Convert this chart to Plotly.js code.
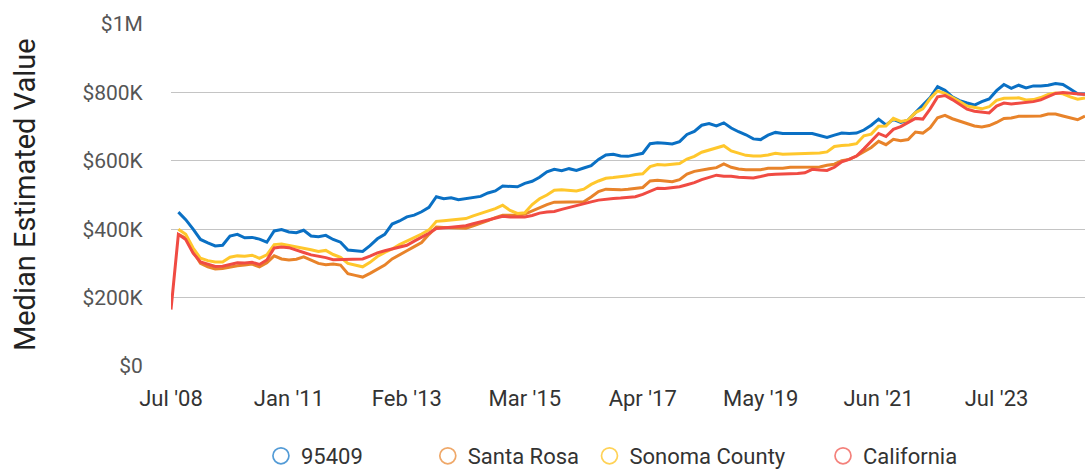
<!DOCTYPE html>
<html>
<head>
<meta charset="utf-8">
<script src="https://cdn.plot.ly/plotly-3.0.1.min.js"></script>
<style>
  html, body { margin: 0; padding: 0; background: #fff; }
  #chart { width: 1089px; height: 470px; }
</style>
</head>
<body>
<div id="chart"></div>
<script>
// Tick labels along the x axis (one every 16 data points)
const tickLabels = ["Jul '08", "Jan '11", "Feb '13", "Mar '15", "Apr '17", "May '19", "Jun '21", "Jul '23"];
const pointsPerTick = 16;

// Series values, in thousands of dollars (null = no data)
const zip95409 = [
  null,450,428,400,370,360,351,353,380,385,
  375,376,371,362,395,399,392,390,397,380,
  378,382,370,362,339,337,335,352,372,385,
  415,424,436,441,451,464,495,489,492,486,
  489,492,496,506,512,526,525,524,534,540,
  552,568,575,571,577,572,579,586,604,617,
  619,614,613,617,622,650,653,651,649,656,
  677,686,704,709,702,711,696,685,676,664,
  662,675,683,680,680,679,678,680,674,668,
  675,681,680,681,690,704,722,705,721,712,
  719,740,763,785,817,806,787,776,769,763,
  773,781,805,823,812,821,813,819,819,821,
  826,823,810,796,795
];
const santaRosa = [
  null,385,374,335,300,290,284,285,290,293,
  295,298,290,302,322,313,310,312,319,310,
  300,296,298,295,270,265,260,271,284,295,
  313,326,337,349,361,385,406,405,405,404,
  403,410,417,425,434,441,441,441,444,454,
  464,472,479,479,479,478,480,494,510,517,
  516,515,517,519,522,541,543,541,539,545,
  561,569,574,577,580,591,581,576,574,573,
  574,578,578,578,581,581,581,581,582,587,
  590,600,604,614,627,639,657,647,663,659,
  662,684,681,697,726,733,723,716,711,702,
  699,703,712,724,725,730,730,730,731,737,
  737,731,726,720,731
];
const sonomaCounty = [
  null,400,385,345,315,308,304,304,318,322,
  321,324,315,325,355,357,353,349,346,340,
  335,338,326,318,300,295,290,303,320,332,
  342,355,365,374,386,398,423,425,427,429,
  431,439,446,452,460,470,455,446,448,472,
  489,500,514,515,513,512,517,531,541,549,
  551,553,556,560,562,583,589,588,590,592,
  605,613,625,632,637,644,629,623,616,614,
  614,617,622,619,620,620,620,621,623,626,
  642,645,646,650,673,678,701,702,724,715,
  719,741,752,782,804,797,786,773,760,755,
  752,758,777,783,783,784,778,779,785,794,
  798,796,787,780,784
];
const california = [
  165,385,370,330,304,298,291,292,298,302,
  301,303,297,310,345,348,346,340,332,325,
  322,317,311,311,312,313,313,321,331,337,
  342,347,353,365,376,388,402,405,406,408,
  410,416,421,427,432,438,436,436,436,440,
  447,450,452,458,464,468,474,480,485,488,
  490,491,493,495,502,511,520,519,522,524,
  530,536,545,551,558,555,555,552,551,550,
  554,559,561,561,562,563,565,575,573,572,
  581,597,604,614,635,658,680,671,692,700,
  712,724,722,752,787,791,779,766,751,745,
  743,740,760,769,766,768,770,773,778,788,
  797,800,798,796,794
];

const seriesNames = ["95409", "Santa Rosa", "Sonoma County", "California"];
const yTickValues = [0, 200000, 400000, 600000, 800000, 1000000];
const yTickLabels = ["$0", "$200K", "$400K", "$600K", "$800K", "$1M"];
const yTitle = "Median Estimated Value";

const lineColors = ["#0a70c4", "#e8832a", "#ffc72c", "#f04b43"];
const legendColors = ["rgba(10,112,196,0.7)", "rgba(232,131,42,0.7)", "rgba(255,199,44,0.8)", "rgba(240,75,67,0.7)"];
const legendPad = [11, 1, 6, 0];   // spacing after each legend label

const allSeries = [zip95409, santaRosa, sonomaCounty, california];
const nPoints = california.length;
const xIdx = california.map((_, i) => i);

const traces = [];
allSeries.forEach((vals, k) => {
  traces.push({
    type: "scatter", mode: "lines",
    x: xIdx, y: vals.map(v => v == null ? null : v * 1000),
    name: seriesNames[k], showlegend: false,
    line: { color: lineColors[k], width: 3, shape: "linear" },
    hoverinfo: "skip"
  });
});
// legend entries (open circles)
seriesNames.forEach((nm, k) => {
  traces.push({
    type: "scatter", mode: "markers",
    x: [null], y: [null],
    name: nm + "\u00a0".repeat(legendPad[k]),
    showlegend: true,
    marker: { symbol: "circle-open", size: 18, color: legendColors[k], line: { width: 1.7, color: legendColors[k] } }
  });
});

const tickVals = tickLabels.map((_, i) => i * pointsPerTick);

const layout = {
  width: 1089, height: 470,
  margin: { l: 171, r: 4, t: 24, b: 104, autoexpand: false },
  paper_bgcolor: "#fff", plot_bgcolor: "#fff",
  font: { family: "Roboto, 'Noto Sans', sans-serif", color: "#333" },
  showlegend: true,
  legend: {
    orientation: "h", xref: "paper", x: 0.0984, xanchor: "left",
    yref: "container", y: (470 - 456) / 470, yanchor: "middle",
    font: { size: 22, color: "#333", family: "Roboto, sans-serif" },
    traceorder: "normal"
  },
  xaxis: {
    range: [0, nPoints - 1],
    tickmode: "array", tickvals: tickVals, ticktext: tickLabels,
    showgrid: false, zeroline: false, showline: false,
    ticks: "outside", ticklen: 13, tickcolor: "rgba(0,0,0,0)",
    tickfont: { size: 22, color: "#333", family: "Roboto, sans-serif" },
    automargin: false
  },
  yaxis: {
    range: [0, 1000000],
    tickmode: "array", tickvals: yTickValues, ticktext: yTickLabels,
    showgrid: true, gridcolor: "#c4c4c4", gridwidth: 1,
    zeroline: false, showline: false,
    ticks: "outside", ticklen: 23, tickcolor: "rgba(0,0,0,0)",
    tickfont: { size: 21, color: "#555", family: "Roboto, sans-serif" },
    automargin: false
  },
  annotations: [{
    text: yTitle, xref: "paper", yref: "paper",
    x: (25 - 171) / 914.5, y: 0.5, xanchor: "center", yanchor: "middle",
    textangle: -90, showarrow: false,
    font: { size: 29, color: "#222", family: "Roboto, sans-serif" }
  }]
};

Plotly.newPlot("chart", traces, layout, { displayModeBar: false, responsive: false });
</script>
</body>
</html>
